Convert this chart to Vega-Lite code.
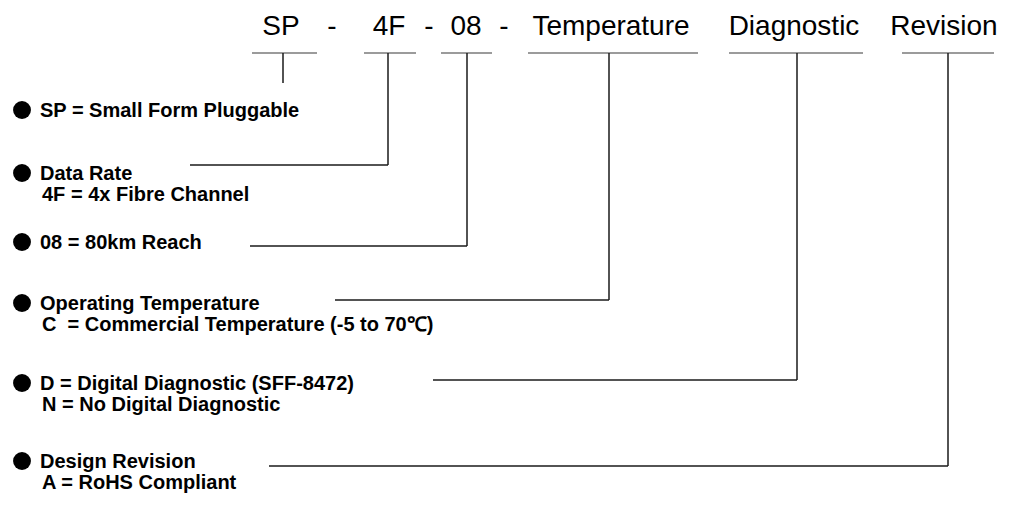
{
  "$schema": "https://vega.github.io/schema/vega-lite/v6.json",
  "width": 1011,
  "height": 506,
  "padding": 0,
  "autosize": {"type": "none"},
  "background": "white",
  "config": {"view": {"stroke": null}},
  "datasets": {
    "segments": [
      {"x": 252, "x2": 317, "y": 53, "y2": 53, "kind": "underline"},
      {"x": 364, "x2": 416, "y": 53, "y2": 53, "kind": "underline"},
      {"x": 441, "x2": 492, "y": 53, "y2": 53, "kind": "underline"},
      {"x": 528, "x2": 698, "y": 53, "y2": 53, "kind": "underline"},
      {"x": 729, "x2": 863, "y": 53, "y2": 53, "kind": "underline"},
      {"x": 902, "x2": 994, "y": 53, "y2": 53, "kind": "underline"},
      {"x": 283, "x2": 283, "y": 53, "y2": 83, "kind": "leader"},
      {"x": 388, "x2": 388, "y": 53, "y2": 165, "kind": "leader"},
      {"x": 467, "x2": 467, "y": 53, "y2": 246, "kind": "leader"},
      {"x": 609, "x2": 609, "y": 53, "y2": 300, "kind": "leader"},
      {"x": 797, "x2": 797, "y": 53, "y2": 380, "kind": "leader"},
      {"x": 948, "x2": 948, "y": 53, "y2": 466, "kind": "leader"},
      {"x": 190, "x2": 388, "y": 165, "y2": 165, "kind": "leader"},
      {"x": 250, "x2": 467, "y": 246, "y2": 246, "kind": "leader"},
      {"x": 335, "x2": 609, "y": 300, "y2": 300, "kind": "leader"},
      {"x": 433, "x2": 797, "y": 380, "y2": 380, "kind": "leader"},
      {"x": 269, "x2": 948, "y": 466, "y2": 466, "kind": "leader"}
    ],
    "bullets": [
      {"x": 22, "y": 110},
      {"x": 22, "y": 173},
      {"x": 22, "y": 242},
      {"x": 22, "y": 303},
      {"x": 22, "y": 383},
      {"x": 22, "y": 461}
    ],
    "labels": [
      {"x": 281, "y": 35, "text": "SP", "group": "header"},
      {"x": 332, "y": 35, "text": "-", "group": "header"},
      {"x": 389, "y": 35, "text": "4F", "group": "header"},
      {"x": 429, "y": 35, "text": "-", "group": "header"},
      {"x": 466, "y": 35, "text": "08", "group": "header"},
      {"x": 504, "y": 35, "text": "-", "group": "header"},
      {"x": 611, "y": 35, "text": "Temperature", "group": "header"},
      {"x": 794, "y": 35, "text": "Diagnostic", "group": "header"},
      {"x": 944, "y": 35, "text": "Revision", "group": "header"},
      {"x": 40, "y": 117, "text": "SP = Small Form Pluggable", "group": "legend"},
      {"x": 40, "y": 180, "text": "Data Rate", "group": "legend"},
      {"x": 42, "y": 201, "text": "4F = 4x Fibre Channel", "group": "legend"},
      {"x": 40, "y": 249, "text": "08 = 80km Reach", "group": "legend"},
      {"x": 40, "y": 310, "text": "Operating Temperature", "group": "legend"},
      {"x": 42, "y": 331, "text": "C \u00a0= Commercial Temperature (-5 to 70℃)", "group": "legend"},
      {"x": 40, "y": 390, "text": "D = Digital Diagnostic (SFF-8472)", "group": "legend"},
      {"x": 42, "y": 411, "text": "N = No Digital Diagnostic", "group": "legend"},
      {"x": 40, "y": 468, "text": "Design Revision", "group": "legend"},
      {"x": 42, "y": 489, "text": "A = RoHS Compliant", "group": "legend"}
    ]
  },
  "layer": [
    {
      "data": {"name": "segments"},
      "mark": {"type": "rule", "strokeWidth": 1.5},
      "encoding": {
        "x": {"field": "x", "type": "quantitative", "scale": {"domain": [0, 1011], "nice": false, "zero": false}, "axis": null},
        "x2": {"field": "x2"},
        "y": {"field": "y", "type": "quantitative", "scale": {"domain": [0, 506], "nice": false, "zero": false, "reverse": true}, "axis": null},
        "y2": {"field": "y2"},
        "color": {"field": "kind", "type": "nominal", "scale": {"domain": ["underline", "leader"], "range": ["#7a7a7a", "#1a1a1a"]}, "legend": null}
      }
    },
    {
      "data": {"name": "bullets"},
      "mark": {"type": "point", "shape": "circle", "filled": true, "size": 320, "color": "black", "opacity": 1},
      "encoding": {
        "x": {"field": "x", "type": "quantitative"},
        "y": {"field": "y", "type": "quantitative"}
      }
    },
    {
      "data": {"name": "labels"},
      "transform": [{"filter": "datum.group === 'header'"}],
      "mark": {"type": "text", "font": "Liberation Sans", "fontSize": 28, "align": "center", "baseline": "alphabetic", "color": "black"},
      "encoding": {
        "x": {"field": "x", "type": "quantitative"},
        "y": {"field": "y", "type": "quantitative"},
        "text": {"field": "text"}
      }
    },
    {
      "data": {"name": "labels"},
      "transform": [{"filter": "datum.group === 'legend'"}],
      "mark": {"type": "text", "font": "Liberation Sans", "fontSize": 20, "fontWeight": "bold", "align": "left", "baseline": "alphabetic", "color": "black"},
      "encoding": {
        "x": {"field": "x", "type": "quantitative"},
        "y": {"field": "y", "type": "quantitative"},
        "text": {"field": "text"}
      }
    }
  ]
}
